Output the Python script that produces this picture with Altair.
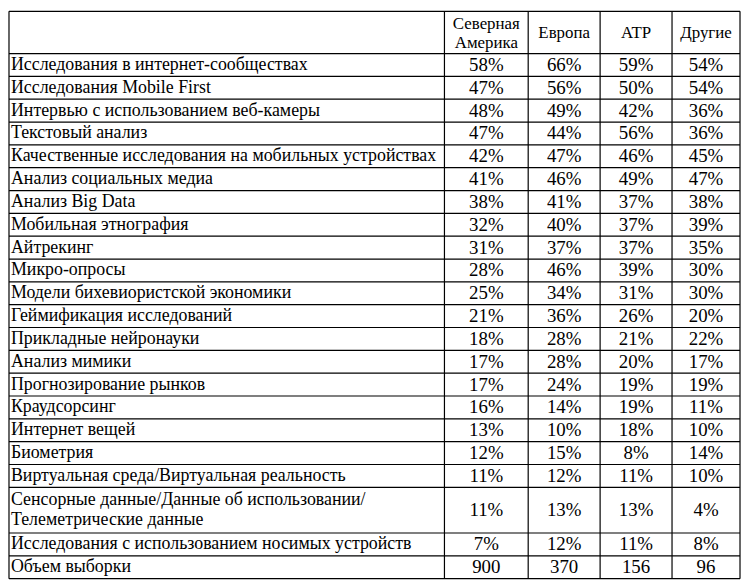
import altair as alt
import pandas as pd

# ---- data ----
headers = ["Северная\nАмерика", "Европа", "ATP", "Другие"]
labels = [
    "Исследования в интернет-сообществах",
    "Исследования Mobile First",
    "Интервью с использованием веб-камеры",
    "Текстовый анализ",
    "Качественные исследования на мобильных устройствах",
    "Анализ социальных медиа",
    "Анализ Big Data",
    "Мобильная этнография",
    "Айтрекинг",
    "Микро-опросы",
    "Модели бихевиористской экономики",
    "Геймификация исследований",
    "Прикладные нейронауки",
    "Анализ мимики",
    "Прогнозирование рынков",
    "Краудсорсинг",
    "Интернет вещей",
    "Биометрия",
    "Виртуальная среда/Виртуальная реальность",
    "Сенсорные данные/Данные об использовании/\nТелеметрические данные",
    "Исследования с использованием носимых устройств",
]
north_america = [58, 47, 48, 47, 42, 41, 38, 32, 31, 28, 25, 21, 18, 17, 17, 16, 13, 12, 11, 11, 7]
europe = [66, 56, 49, 44, 47, 46, 41, 40, 37, 46, 34, 36, 28, 28, 24, 14, 10, 15, 12, 13, 12]
apac = [59, 50, 42, 56, 46, 49, 37, 37, 37, 39, 31, 26, 21, 20, 19, 19, 18, 8, 11, 13, 11]
other = [54, 54, 36, 36, 45, 47, 38, 39, 35, 30, 30, 20, 22, 17, 19, 11, 10, 14, 10, 4, 8]
sample_label = "Объем выборки"
sample_sizes = [900, 370, 156, 96]

# ---- layout (table units) ----
col_widths = [442, 85, 73, 73, 69]
header_h = 43.0
row_h = 23.25
W, H = 737, 572
FONT = "'Liberation Serif', 'Times New Roman', serif"
FS_LABEL = 18
FS_HEAD = 17
FS_NUM = 19
LH_HEAD = 19
LH_BODY = 20

x_edges = [0]
for w in col_widths:
    x_edges.append(x_edges[-1] + w)
total_w = x_edges[-1]

row_names = labels + [sample_label]
row_heights = [row_h * (2 if "\n" in r else 1) for r in row_names]
y_edges = [0, header_h]
for h in row_heights:
    y_edges.append(y_edges[-1] + h)
total_h = y_edges[-1]

series = [north_america, europe, apac, other]


def text_y(center, txt, lh):
    n = txt.count("\n") + 1
    return center - (n - 1) * lh / 2


left_rows, head_rows, num_rows = [], [], []
for j, hd in enumerate(headers):
    head_rows.append({"x": (x_edges[j + 1] + x_edges[j + 2]) / 2,
                      "y": text_y(header_h / 2 + 1, hd, LH_HEAD), "t": hd})
for i, name in enumerate(row_names):
    yc = (y_edges[i + 1] + y_edges[i + 2]) / 2
    left_rows.append({"x": 2.0, "y": text_y(yc, name, LH_BODY), "t": name})
    for j in range(4):
        if i < len(labels):
            txt = f"{series[j][i]}%"
        else:
            txt = str(sample_sizes[j])
        num_rows.append({"x": (x_edges[j + 1] + x_edges[j + 2]) / 2, "y": yc, "t": txt})

hlines = pd.DataFrame({"y": y_edges, "x": 0, "x2": total_w})
vlines = pd.DataFrame({"x": x_edges, "y": 0, "y2": total_h})

xs = alt.Scale(domain=[0, total_w], nice=False, zero=False)
ys = alt.Scale(domain=[0, total_h], nice=False, zero=False, reverse=True)
X = alt.X("x:Q", scale=xs, axis=None)
Y = alt.Y("y:Q", scale=ys, axis=None)

h_rule = alt.Chart(hlines).mark_rule(color="black", strokeWidth=1.2).encode(x=X, x2="x2:Q", y=Y)
v_rule = alt.Chart(vlines).mark_rule(color="black", strokeWidth=1.2).encode(x=X, y=Y, y2="y2:Q")


def text_layer(rows, align, fs, lh):
    return alt.Chart(pd.DataFrame(rows)).mark_text(
        align=align, baseline="middle", font=FONT, fontSize=fs, color="black",
        lineBreak="\n", lineHeight=lh
    ).encode(x=X, y=Y, text="t:N")


chart = alt.layer(
    h_rule, v_rule,
    text_layer(left_rows, "left", FS_LABEL, LH_BODY),
    text_layer(head_rows, "center", FS_HEAD, LH_HEAD),
    text_layer(num_rows, "center", FS_NUM, LH_HEAD),
).properties(
    width=W, height=H, autosize=alt.AutoSizeParams(type="none"),
    padding={"left": 1, "top": 1, "right": 1, "bottom": 1},
    background="white",
).configure_view(stroke=None)

chart.save("out.html", embed_options={"renderer": "svg", "actions": False})
